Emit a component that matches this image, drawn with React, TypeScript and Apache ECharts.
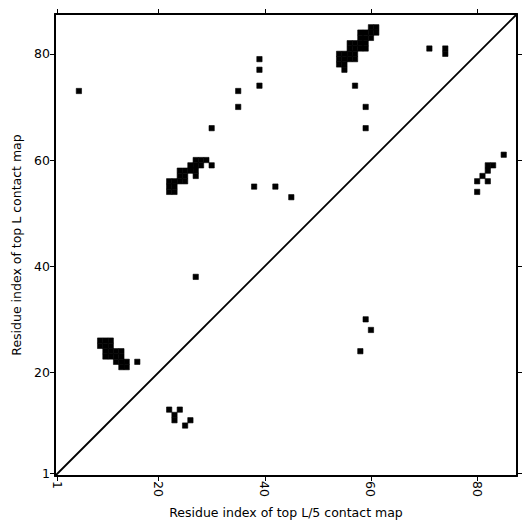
import React, { useEffect, useRef } from "react";
import * as echarts from "echarts";

// Residue index range (L = 87)
const axisMin = 0.5;
const axisMax = 87.5;
const tickValues = [1, 20, 40, 60, 80];

const xAxisName = "Residue index of top L/5 contact map";
const yAxisName = "Residue index of top L contact map";

// Upper triangle: top L contacts [x, y]
const topLContacts: [number, number][] = [
  // top cluster
  [60, 85], [61, 85],
  [58, 84], [59, 84], [60, 84], [61, 84],
  [58, 83], [59, 83], [60, 83],
  [56, 82], [57, 82], [58, 82], [59, 82],
  [56, 81], [57, 81], [58, 81], [59, 81],
  [54, 80], [55, 80], [56, 80], [57, 80],
  [54, 79], [55, 79], [56, 79], [57, 79],
  [54, 78], [55, 78],
  [55, 77],
  // isolated
  [5, 73], [35, 73], [35, 70], [39, 79], [39, 77], [39, 74], [30, 66],
  [57, 74], [59, 70], [59, 66], [71, 81], [74, 81], [74, 80],
  [27, 38], [38, 55], [42, 55], [45, 53],
  // middle cluster
  [27, 60], [28, 60], [29, 60],
  [26, 59], [27, 59], [28, 59], [30, 59],
  [24, 58], [25, 58], [26, 58], [27, 58],
  [24, 57], [25, 57], [27, 57],
  [22, 56], [23, 56], [24, 56], [25, 56],
  [22, 55], [23, 55],
  [22, 54], [23, 54],
  // lower-left cluster
  [9, 26], [10, 26], [11, 26],
  [9, 25], [10, 25], [11, 25],
  [10, 24], [11, 24], [12, 24], [13, 24],
  [10, 23], [11, 23], [12, 23], [13, 23],
  [12, 22], [13, 22], [14, 22], [16, 22],
  [13, 21], [14, 21],
];

// Lower triangle: top L/5 contacts [x, y]
const topL5Contacts: [number, number][] = [
  [22, 13], [24, 13], [23, 12], [23, 11], [26, 11], [25, 10],
  [59, 30], [60, 28], [58, 24],
  [85, 61], [82, 59], [83, 59], [82, 58], [81, 57], [80, 56], [82, 56], [80, 54],
];

const diagonal = [
  [axisMin, axisMin],
  [axisMax, axisMax],
];

const FONT = "DejaVu Sans";
const FONT_SIZE = 12.5;

export default function App() {
  const ref = useRef<HTMLDivElement>(null);
  useEffect(() => {
    if (!ref.current) return;
    const chart = echarts.init(ref.current, null, { renderer: "svg" });
    const renderCell = (params: any, api: any) => {
      const p = api.coord([api.value(0) - 0.5, api.value(1) + 0.5]);
      const s = api.size([1, 1]);
      return {
        type: "rect",
        shape: { x: p[0], y: p[1], width: s[0], height: s[1] },
        style: { fill: "#000", stroke: "#000", lineWidth: 0.6 },
      };
    };
    const baseAxis = {
      type: "value",
      min: axisMin,
      max: axisMax,
      splitLine: { show: false },
      axisLine: { show: true, onZero: false, lineStyle: { color: "#000", width: 2 } },
      axisTick: {
        show: true,
        customValues: tickValues,
        length: 5,
        inside: false,
        lineStyle: { color: "#000", width: 1 },
      },
    };
    chart.setOption({
      animation: false,
      backgroundColor: "#fff",
      grid: { left: 55, right: 14, top: 14, bottom: 55, containLabel: false },
      xAxis: [
        {
          ...baseAxis,
          position: "bottom",
          axisLabel: {
            customValues: tickValues,
            rotate: -90,
            color: "#000",
            fontFamily: FONT,
            fontSize: FONT_SIZE,
            margin: 5,
          },
          name: xAxisName,
          nameLocation: "middle",
          nameGap: 30,
          nameTextStyle: { color: "#000", fontFamily: FONT, fontSize: FONT_SIZE },
        },
        {
          ...baseAxis,
          position: "top",
          axisLabel: { show: false },
        },
      ],
      yAxis: [
        {
          ...baseAxis,
          position: "left",
          axisLabel: {
            customValues: tickValues,
            color: "#000",
            fontFamily: FONT,
            fontSize: FONT_SIZE,
            margin: 5,
          },
          name: yAxisName,
          nameLocation: "middle",
          nameRotate: 90,
          nameGap: 28,
          nameTextStyle: { color: "#000", fontFamily: FONT, fontSize: FONT_SIZE },
        },
        {
          ...baseAxis,
          position: "right",
          axisLabel: { show: false },
        },
      ],
      series: [
        {
          type: "custom",
          name: "top L",
          data: topLContacts,
          renderItem: renderCell,
          encode: { x: 0, y: 1 },
        },
        {
          type: "custom",
          name: "top L/5",
          data: topL5Contacts,
          renderItem: renderCell,
          encode: { x: 0, y: 1 },
        },
        {
          type: "line",
          data: diagonal,
          symbol: "none",
          lineStyle: { color: "#000", width: 1.8 },
          silent: true,
        },
      ],
    });
    return () => chart.dispose();
  }, []);
  return (
    <div
      ref={ref}
      style={{ position: "absolute", left: 0, top: 0, width: 531, height: 531 }}
    />
  );
}
